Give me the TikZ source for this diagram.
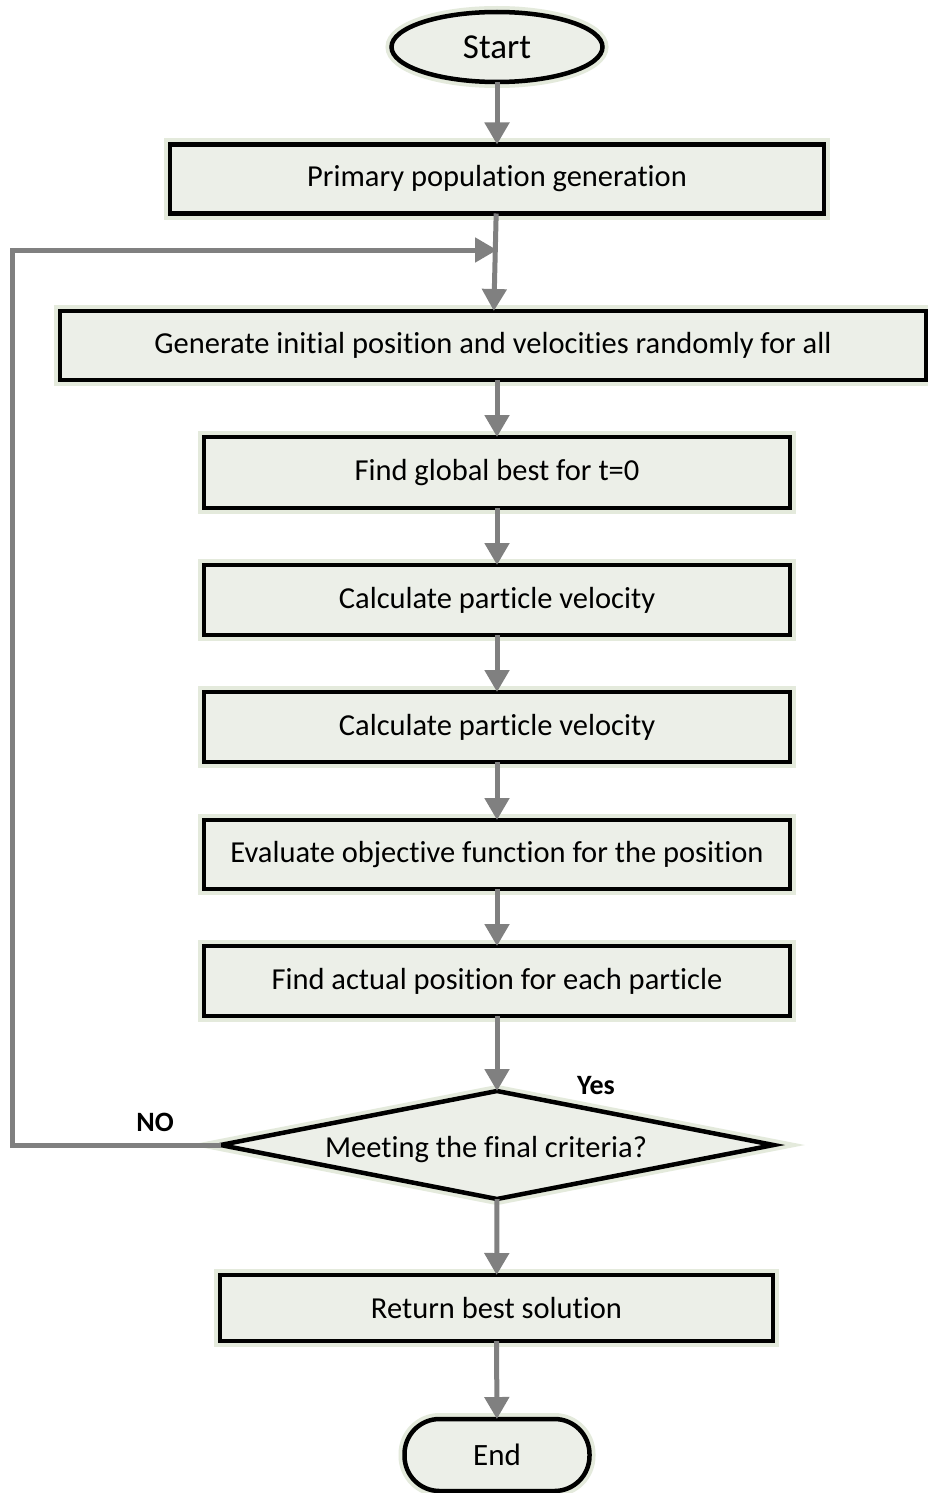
\documentclass[tikz,border=0pt]{standalone}
\usepackage{fontspec}
\setmainfont{Carlito}[Ligatures=CommonOff]
\usetikzlibrary{arrows.meta,shapes.geometric}
\definecolor{boxfill}{HTML}{ECEFE8}
\definecolor{arrowgray}{HTML}{808080}
\definecolor{glow}{HTML}{E4EADC}
\begin{document}
\begin{tikzpicture}[x=1pt,y=-1pt,
  every node/.style={font=\fontsize{30.5}{36}\selectfont, inner sep=0pt, outer sep=0pt},
  shapestyle/.style={draw=black, line width=4.5pt, fill=boxfill, preaction={draw=glow, line width=12pt}},
  procbox/.style={shapestyle, rectangle, minimum height=69pt},
  termin/.style={shapestyle},
  flow/.style={draw=arrowgray, line width=5pt, -{Triangle[length=22pt,width=24pt]}},
  lbl/.style={font=\fontsize{28}{33}\selectfont\bfseries}
]
\useasboundingbox (0,0) rectangle (927,1493);
\fill[white] (0,0) rectangle (927,1493);

\node[termin, ellipse, minimum width=211pt, minimum height=70pt, font=\fontsize{35}{40}\selectfont] (start) at (497,47) {Start};
\node[procbox, minimum width=654pt] (b1) at (497,179) {Primary population generation};
\coordinate (j) at (497,250);
\node[procbox, minimum width=866pt] (b2) at (493,345.5) {Generate initial position and velocities randomly for all};
\node[procbox, minimum width=586pt, minimum height=71pt] (b3) at (497,472.5) {Find global best for t=0};
\node[procbox, minimum width=586pt, minimum height=70pt] (b4) at (497,600) {Calculate particle velocity};
\node[procbox, minimum width=586pt, minimum height=70pt] (b5) at (497,727) {Calculate particle velocity};
\node[procbox, minimum width=586pt, minimum height=69pt] (b6) at (497,854.5) {Evaluate objective function for the position};
\node[procbox, minimum width=586pt, minimum height=70pt] (b7) at (497,981) {Find actual position for each particle};
\node[shapestyle, diamond, shape aspect=5.12, minimum width=553pt, minimum height=108pt] (dia) at (497,1145) {};
\node (diatext) at (486,1150) {Meeting the final criteria?};
\node[procbox, minimum width=553pt, minimum height=66pt] (b8) at (496.5,1308) {Return best solution};
\node[termin, rectangle, rounded corners=35pt, minimum width=185pt, minimum height=72pt, font=\fontsize{31}{36}\selectfont] (end) at (497,1455) {End};

\node[lbl] (yes) at (596,1086) {Yes};
\node[lbl] (no) at (155,1122) {NO};

\draw[flow] (start) -- (b1);
\draw[flow] (b1) -- (b2);
\draw[flow] (b2.south -| b3.north) -- (b3);
\draw[flow] (b3) -- (b4);
\draw[flow] (b4) -- (b5);
\draw[flow] (b5) -- (b6);
\draw[flow] (b6) -- (b7);
\draw[flow] (b7) -- (dia.north);
\draw[flow] (dia.south) -- (b8);
\draw[flow] (b8) -- (end);
\draw[flow] (dia.west) -- (12,1145) -- (12,250) -- (j);
\end{tikzpicture}
\end{document}
